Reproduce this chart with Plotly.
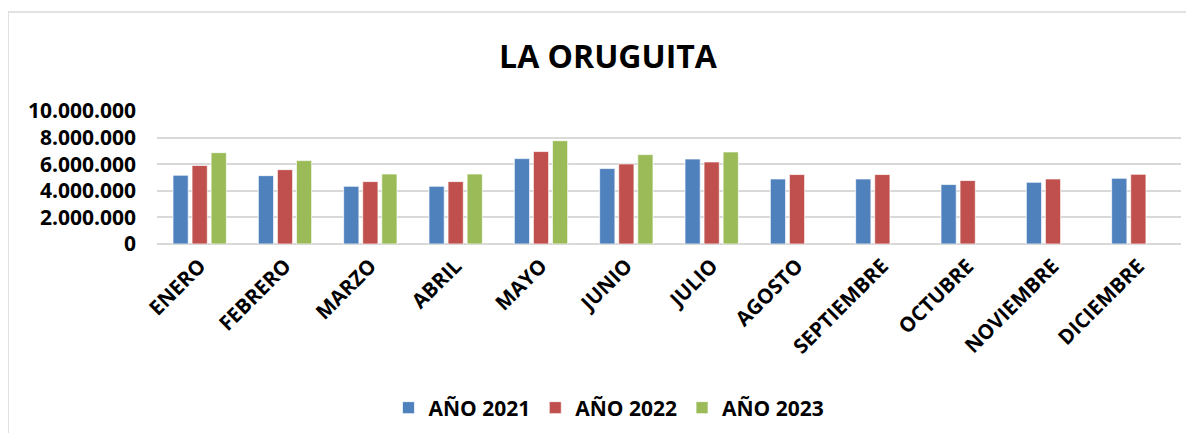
import plotly.graph_objects as go

# data
meses = ["ENERO", "FEBRERO", "MARZO", "ABRIL", "MAYO", "JUNIO", "JULIO",
         "AGOSTO", "SEPTIEMBRE", "OCTUBRE", "NOVIEMBRE", "DICIEMBRE"]
anio_2021 = [5170000, 5140000, 4340000, 4340000, 6420000, 5670000, 6390000,
             4890000, 4890000, 4470000, 4640000, 4940000]
anio_2022 = [5900000, 5590000, 4690000, 4690000, 6950000, 6020000, 6170000,
             5220000, 5220000, 4770000, 4890000, 5240000]
anio_2023 = [6870000, 6270000, 5260000, 5260000, 7770000, 6720000, 6920000,
             None, None, None, None, None]
y_ticks = [0, 2000000, 4000000, 6000000, 8000000, 10000000]
y_tick_labels = ["0", "2.000.000", "4.000.000", "6.000.000", "8.000.000", "10.000.000"]

FONT = "Open Sans"
series = [
    ("AÑO 2021", anio_2021, "#4F81BD"),
    ("AÑO 2022", anio_2022, "#C0504D"),
    ("AÑO 2023", anio_2023, "#9BBB59"),
]

# the page body adds an 8px margin, so the figure is sized to fit inside it
W, H = 1178, 425
L, T = 149, 103
PW, PH = 1024, 133

fig = go.Figure()
for name, values, color in series:
    fig.add_trace(
        go.Bar(
            x=meses,
            y=values,
            name="<b>%s</b>" % name,
            marker=dict(color=color, line=dict(color="rgba(255,255,255,0.7)", width=1)),
        )
    )

fig.update_layout(
    width=W,
    height=H,
    margin=dict(l=L, r=W - L - PW, t=T, b=H - T - PH),
    paper_bgcolor="white",
    plot_bgcolor="white",
    barmode="group",
    bargap=0.33,
    bargroupgap=0.2,
    font=dict(family=FONT, color="black"),
    title=dict(
        text="<b>LA ORUGUITA</b>",
        font=dict(size=32, family=FONT, color="black"),
        x=600 / W,
        xanchor="center",
        y=1 - 49 / H,
        yanchor="middle",
    ),
    legend=dict(
        orientation="h",
        x=(601 - L) / PW,
        xanchor="center",
        y=(T + PH - 400) / PH,
        yanchor="middle",
        font=dict(size=21, family=FONT, color="black"),
        traceorder="normal",
    ),
    showlegend=True,
)

fig.update_yaxes(
    range=[0, 10000000],
    tickvals=y_ticks,
    ticktext=["<b>%s</b>" % t for t in y_tick_labels],
    tickfont=dict(size=21, family=FONT, color="black"),
    showgrid=True,
    gridcolor="#D9D9D9",
    gridwidth=1.5,
    zeroline=True,
    zerolinecolor="#D9D9D9",
    zerolinewidth=1.5,
    showline=False,
    ticklabelstandoff=20,
    automargin=False,
)
fig.update_xaxes(
    tickangle=-45,
    tickvals=meses,
    ticktext=["<b>%s</b>" % m for m in meses],
    tickfont=dict(size=20.5, family=FONT, color="black"),
    showline=False,
    ticklabelstandoff=5,
    automargin=False,
)

# light grey chart-area border (left and top edges visible)
fig.add_shape(
    type="rect",
    xref="paper",
    yref="paper",
    x0=(0 - L) / PW,
    x1=(W + 20 - L) / PW,
    y0=(T + PH - H - 20) / PH,
    y1=(T + PH - 4) / PH,
    line=dict(color="#D9D9D9", width=1.5),
    fillcolor="rgba(0,0,0,0)",
    layer="below",
)

fig.write_html("out.html")
